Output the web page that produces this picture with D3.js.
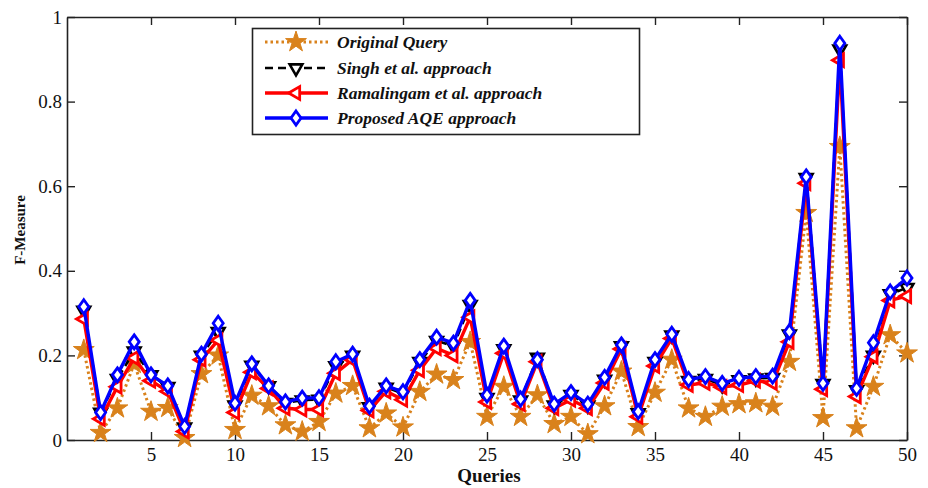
<!DOCTYPE html>
<html>
<head>
<meta charset="utf-8">
<script src="https://cdn.jsdelivr.net/npm/d3@7/dist/d3.min.js"></script>
<style>
  body { margin: 0; background: #fff; }
  svg text { font-family: "Liberation Serif", "Times New Roman", serif; fill: #111; }
</style>
</head>
<body>
<div class="chart"></div>
<script>
// ---------------------------------------------------------------
// data
// ---------------------------------------------------------------
var queries = d3.range(1, 51);

var originalQuery = [0.213, 0.017, 0.075, 0.18, 0.067, 0.076, 0.005, 0.156, 0.2, 0.024,
                     0.105, 0.08, 0.035, 0.02, 0.043, 0.11, 0.128, 0.028, 0.063, 0.03,
                     0.114, 0.155, 0.142, 0.232, 0.055, 0.126, 0.055, 0.106, 0.038, 0.055,
                     0.014, 0.08, 0.162, 0.031, 0.112, 0.19, 0.075, 0.055, 0.079, 0.085,
                     0.087, 0.079, 0.185, 0.537, 0.052, 0.693, 0.028, 0.126, 0.248, 0.205];

var singh = [0.306, 0.065, 0.145, 0.21, 0.154, 0.126, 0.03, 0.2, 0.256, 0.082,
             0.176, 0.128, 0.088, 0.094, 0.096, 0.175, 0.2, 0.078, 0.124, 0.11,
             0.185, 0.235, 0.222, 0.32, 0.1, 0.215, 0.094, 0.195, 0.082, 0.107,
             0.082, 0.143, 0.222, 0.064, 0.185, 0.248, 0.14, 0.145, 0.13, 0.142,
             0.146, 0.147, 0.25, 0.62, 0.133, 0.924, 0.118, 0.2, 0.345, 0.36];

var ramalingam = [0.286, 0.05, 0.126, 0.194, 0.14, 0.115, 0.02, 0.19, 0.236, 0.065,
                  0.16, 0.122, 0.075, 0.072, 0.072, 0.158, 0.19, 0.07, 0.115, 0.095,
                  0.165, 0.217, 0.2, 0.29, 0.09, 0.205, 0.085, 0.185, 0.075, 0.095,
                  0.075, 0.135, 0.215, 0.055, 0.175, 0.24, 0.13, 0.135, 0.125, 0.13,
                  0.14, 0.135, 0.232, 0.607, 0.12, 0.898, 0.103, 0.197, 0.33, 0.34];

var proposed = [0.315, 0.065, 0.154, 0.232, 0.154, 0.128, 0.032, 0.203, 0.276, 0.087,
                0.18, 0.128, 0.09, 0.099, 0.1, 0.185, 0.203, 0.08, 0.128, 0.114,
                0.19, 0.243, 0.229, 0.33, 0.106, 0.222, 0.097, 0.19, 0.085, 0.112,
                0.085, 0.148, 0.225, 0.067, 0.19, 0.25, 0.143, 0.15, 0.134, 0.146,
                0.15, 0.151, 0.256, 0.622, 0.134, 0.938, 0.122, 0.23, 0.35, 0.383];

var seriesNames = ['Original Query', 'Singh et al. approach', 'Ramalingam et al. approach', 'Proposed AQE approach'];
var xTicks = [5, 10, 15, 20, 25, 30, 35, 40, 45, 50];
var yTicks = [0, 0.2, 0.4, 0.6, 0.8, 1];

// ---------------------------------------------------------------
// size + scales
// ---------------------------------------------------------------
var w = 928,
    h = 488,
    mLeft = 67, mRight = 907, mTop = 17, mBottom = 440;

var x = d3.scaleLinear().domain([0, 50]).range([mLeft, mRight]);
var y = d3.scaleLinear().domain([0, 1]).range([mBottom, mTop]);

var svg = d3.select('.chart')
    .append('svg')
    .attr('width', w)
    .attr('height', h);

// ---------------------------------------------------------------
// axes (matlab style box, ticks inside)
// ---------------------------------------------------------------
var fmt = function(d) { return d === 0 || d === 1 ? String(d) : d3.format('.1f')(d); };

svg.append('g')
    .attr('transform', 'translate(0,' + mBottom + ')')
    .call(d3.axisBottom(x).tickValues(xTicks).tickSizeInner(-8).tickSizeOuter(0).tickPadding(8));
svg.append('g')
    .attr('transform', 'translate(0,' + mTop + ')')
    .call(d3.axisTop(x).tickValues(xTicks).tickSizeInner(-8).tickSizeOuter(0).tickFormat(''));
svg.append('g')
    .attr('transform', 'translate(' + mLeft + ',0)')
    .call(d3.axisLeft(y).tickValues(yTicks).tickSizeInner(-8).tickSizeOuter(0).tickPadding(5).tickFormat(fmt));
svg.append('g')
    .attr('transform', 'translate(' + mRight + ',0)')
    .call(d3.axisRight(y).tickValues(yTicks).tickSizeInner(-8).tickSizeOuter(0).tickFormat(''));

svg.selectAll('.domain').attr('stroke', '#222').attr('stroke-width', 1.6);
svg.selectAll('.tick line').attr('stroke', '#222').attr('stroke-width', 1.4);
svg.selectAll('.tick text')
    .attr('font-family', '"Liberation Serif", serif')
    .attr('font-size', 19)
    .attr('fill', '#111');

// axis titles
svg.append('text')
    .attr('x', (mLeft + mRight) / 2 + 2)
    .attr('y', 482)
    .attr('text-anchor', 'middle')
    .attr('font-size', 19)
    .attr('font-weight', 'bold')
    .text('Queries');

svg.append('text')
    .attr('transform', 'translate(25,' + 230 + ') rotate(-90)')
    .attr('text-anchor', 'middle')
    .attr('font-size', 15)
    .attr('font-weight', 'bold')
    .text('F-Measure');

// ---------------------------------------------------------------
// series
// ---------------------------------------------------------------
var diamondPath = 'M0,-7L5,0L0,7L-5,0Z';
var starPath = d3.symbol().type(d3.symbolStar).size(135)();
var triPath = d3.symbol().type(d3.symbolTriangle).size(70)();

var series = [
    { name: seriesNames[0], values: originalQuery, color: '#D9821C', dash: '2.5,3', width: 3,
      marker: starPath, rotate: 0, fill: '#D9821C', mstroke: 1 },
    { name: seriesNames[1], values: singh, color: '#000', dash: '8,5', width: 2.6,
      marker: triPath, rotate: 180, fill: '#fff', mstroke: 2.6 },
    { name: seriesNames[2], values: ramalingam, color: '#FF0000', dash: null, width: 3.4,
      marker: triPath, rotate: -90, fill: '#fff', mstroke: 2.8 },
    { name: seriesNames[3], values: proposed, color: '#0000FF', dash: null, width: 3.4,
      marker: diamondPath, rotate: 0, fill: '#fff', mstroke: 2.8 }
];

var line = d3.line()
    .x(function(d, i) { return x(queries[i]); })
    .y(function(d) { return y(d); });

series.forEach(function(s) {
    var g = svg.append('g');

    g.append('path')
        .datum(s.values)
        .attr('d', line)
        .attr('fill', 'none')
        .attr('stroke', s.color)
        .attr('stroke-width', s.width)
        .attr('stroke-dasharray', s.dash)
        .attr('stroke-linejoin', 'round');

    g.selectAll('path.mk')
        .data(s.values)
        .enter()
        .append('path')
        .attr('class', 'mk')
        .attr('d', s.marker)
        .attr('transform', function(d, i) {
            return 'translate(' + x(queries[i]) + ',' + y(d) + ') rotate(' + s.rotate + ')';
        })
        .attr('fill', s.fill)
        .attr('stroke', s.color)
        .attr('stroke-width', s.mstroke);
});

// ---------------------------------------------------------------
// legend
// ---------------------------------------------------------------
var legend = svg.append('g');

legend.append('rect')
    .attr('x', 252.5)
    .attr('y', 28.5)
    .attr('width', 387)
    .attr('height', 106)
    .attr('fill', '#fff')
    .attr('stroke', '#222')
    .attr('stroke-width', 1.6);

var legY = [42, 68, 93, 118];

series.forEach(function(s, i) {
    var row = legend.append('g').attr('transform', 'translate(0,' + legY[i] + ')');
    row.append('line')
        .attr('x1', 265).attr('x2', 328)
        .attr('y1', 0).attr('y2', 0)
        .attr('stroke', s.color)
        .attr('stroke-width', s.width)
        .attr('stroke-dasharray', s.dash);
    row.append('path')
        .attr('d', s.marker)
        .attr('transform', 'translate(296,0) rotate(' + s.rotate + ')')
        .attr('fill', s.fill)
        .attr('stroke', s.color)
        .attr('stroke-width', s.mstroke);
    row.append('text')
        .attr('x', 337)
        .attr('y', 6)
        .attr('font-size', 17.5)
        .attr('font-style', 'italic')
        .attr('fill', '#000')
        .style('font-weight', 600)
        .text(s.name);
});
</script>
</body>
</html>
